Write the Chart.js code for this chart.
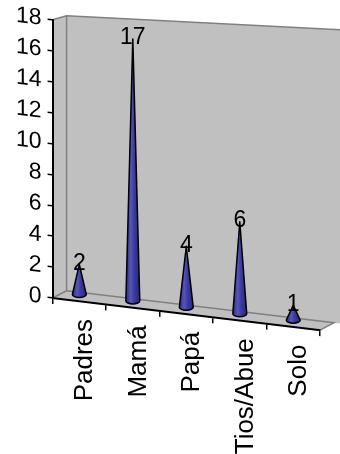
<!DOCTYPE html>
<html><head><meta charset="utf-8">
<script src="https://cdn.jsdelivr.net/npm/chart.js@4"></script>
<style>html,body{margin:0;padding:0;background:#fff;}#wrap{width:340px;height:454px;}</style>
</head><body><div id="wrap"><canvas id="c" width="340" height="454"></canvas></div>
<script>
const categories = ['Padres', 'Mamá', 'Papá', 'Tios/Abue', 'Solo'];
const values = [2, 17, 4, 6, 1];
const yMin = 0, yMax = 18, yStep = 2;

const FONT = '"Liberation Sans", Arial, sans-serif';
const SHEAR = 0.12;      // perspective slope of the floor
const DX = 14, DY = 9;   // depth of the 3D box
const CONE_LIFT = 6;     // cones stand mid-depth on the floor
const WALL = '#c0c0c0', EDGE = '#808080';

const box3d = {
  id: 'box3d',
  beforeDraw(chart) {
    const ctx = chart.ctx, a = chart.chartArea;
    const L = a.left, T = a.top, R = a.right, B = a.bottom, W = chart.width;
    const fy = x => B - DY + SHEAR * (x - L);
    ctx.save();
    ctx.fillStyle = WALL;
    ctx.beginPath();
    ctx.moveTo(L + DX, T - 4); ctx.lineTo(W, T + 10); ctx.lineTo(W, fy(W)); ctx.lineTo(L + DX, fy(L + DX));
    ctx.closePath(); ctx.fill();
    ctx.beginPath();
    ctx.moveTo(L, T); ctx.lineTo(L + DX, T - 4); ctx.lineTo(L + DX, fy(L + DX)); ctx.lineTo(L, B);
    ctx.closePath(); ctx.fill();
    ctx.beginPath();
    ctx.moveTo(L, B); ctx.lineTo(L + DX, fy(L + DX)); ctx.lineTo(R + DX, fy(R + DX)); ctx.lineTo(R, B + SHEAR * (R - L));
    ctx.closePath(); ctx.fill();
    ctx.strokeStyle = EDGE; ctx.lineWidth = 1.5;
    ctx.beginPath();
    ctx.moveTo(L, T); ctx.lineTo(L + DX, T - 4); ctx.lineTo(W, T + 10);
    ctx.moveTo(L + DX, T - 4); ctx.lineTo(L + DX, fy(L + DX)); ctx.lineTo(L, B);
    ctx.moveTo(L + DX, fy(L + DX)); ctx.lineTo(R + DX, fy(R + DX)); ctx.lineTo(R, B + SHEAR * (R - L));
    ctx.stroke();
    ctx.restore();
    ctx.save();
    ctx.transform(1, SHEAR, 0, 1, 0, -SHEAR * L);
  },
  afterDraw(chart) {
    const ctx = chart.ctx, a = chart.chartArea, L = a.left, B = a.bottom;
    ctx.restore();
    const xs = chart.scales.x;
    categories.forEach((c, i) => {
      const x = xs.getPixelForValue(i) + 6;
      const y = B + SHEAR * (x - L) + 17;
      ctx.save();
      ctx.translate(x, y);
      ctx.rotate(-Math.PI / 2);
      ctx.font = '26px ' + FONT;
      ctx.fillStyle = '#000';
      ctx.textAlign = 'right'; ctx.textBaseline = 'middle';
      ctx.fillText(c, 0, 0);
      ctx.restore();
    });
    const meta = chart.getDatasetMeta(0);
    meta.data.forEach((el, i) => {
      const p = el.getProps(['x', 'y', 'base', 'width'], true);
      const off = SHEAR * (p.x - L) - CONE_LIFT;
      const x = p.x, top = p.y + off, base = p.base + off, hw = p.width / 2, ry = 3;
      const g = ctx.createLinearGradient(x - hw, 0, x + hw, 0);
      g.addColorStop(0, '#2a2a86');
      g.addColorStop(0.35, '#5656b8');
      g.addColorStop(0.6, '#3a3aa0');
      g.addColorStop(1, '#28287e');
      ctx.save();
      ctx.beginPath();
      ctx.moveTo(x, top);
      ctx.lineTo(x + hw, base);
      ctx.ellipse(x, base, hw, ry, 0, 0, Math.PI);
      ctx.closePath();
      ctx.fillStyle = g; ctx.fill();
      ctx.strokeStyle = '#000'; ctx.lineWidth = 1.5; ctx.lineJoin = 'round'; ctx.stroke();
      ctx.fillStyle = '#000';
      ctx.font = '23px ' + FONT;
      ctx.textAlign = 'center'; ctx.textBaseline = 'middle';
      ctx.fillText(String(values[i]), x, top - 1);
      ctx.restore();
    });
  }
};

new Chart(document.getElementById('c'), {
  type: 'bar',
  data: {
    labels: categories,
    datasets: [{ data: values, backgroundColor: 'rgba(0,0,0,0)', borderWidth: 0,
      categoryPercentage: 1, barPercentage: 0.26 }]
  },
  options: {
    responsive: false, animation: false,
    layout: { padding: { left: 10, top: 19, right: 20, bottom: 0 } },
    plugins: { legend: { display: false }, tooltip: { enabled: false } },
    scales: {
      y: {
        min: yMin, max: yMax,
        ticks: { stepSize: yStep, color: '#000', font: { family: FONT, size: 23 }, padding: 6 },
        grid: { drawOnChartArea: false, drawTicks: true, tickLength: 5, color: '#000', lineWidth: 1.5 },
        border: { color: '#000', width: 2 }
      },
      x: {
        ticks: { display: false },
        grid: { drawOnChartArea: false, drawTicks: true, tickLength: 6, color: '#000', lineWidth: 1.5, offset: true },
        border: { color: '#000', width: 2 },
        afterFit(scale) { scale.height = 156; }
      }
    }
  },
  plugins: [box3d]
});
</script></body></html>
